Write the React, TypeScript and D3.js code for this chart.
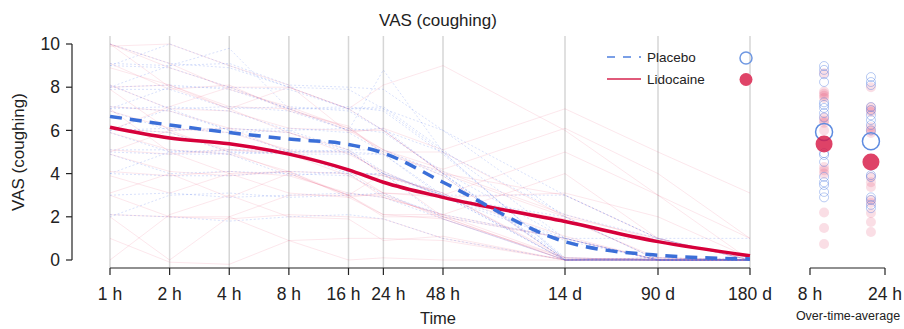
import React from "react";
import * as d3 from "d3";

const timeLabels = ["1 h", "2 h", "4 h", "8 h", "16 h", "24 h", "48 h", "14 d", "90 d", "180 d"];
const timeHours = [1, 2, 4, 8, 16, 24, 48, 336, 2160, 4320];

const placeboMean = [6.65, 6.25, 5.9, 5.6, 5.35, 4.95, 3.6, 0.85, 0.22, 0.05];
const lidocaineMean = [6.15, 5.65, 5.38, 4.9, 4.17, 3.6, 2.9, 1.78, 0.85, 0.2];

const lidocainePatients: number[][] = [
  [10, 9.1, 7.9, 7.1, 6.1, 5.1, 3.9, 0, 0.1, 0],
  [9.9, 10, 9, 8.1, 5.9, 6.1, 5.1, 7, 5, 3.1],
  [9.1, 7.9, 8.1, 6.9, 6.2, 4.9, 4.1, 2.1, 0.9, 0.1],
  [8, 8.1, 7, 5.9, 5.1, 3.9, 3.1, 0.1, 0, 0],
  [8.1, 7, 6.9, 6.1, 6, 5.1, 4.2, 6.1, 4, 1],
  [7.1, 6.9, 6.1, 5.9, 4.9, 4.1, 2.9, 1.9, 0.1, 0],
  [6.9, 6.1, 5.9, 5.1, 4.1, 3.9, 3.1, 0, 0.1, 0],
  [6.1, 5.9, 5.1, 4.9, 3.9, 3.1, 2.9, 3.1, 2, 0.1],
  [5.9, 5.1, 4.9, 4.1, 4, 2.9, 2.1, 0.1, 0, 0],
  [5.1, 4.9, 5.1, 5, 4.1, 3.1, 3, 5, 3, 1],
  [4.9, 4.1, 3.9, 4.1, 2.9, 3.1, 1.9, 0, 0, 0],
  [4.1, 3.9, 4.1, 3.9, 3.1, 2.9, 2.1, 1, 0, 0],
  [3.9, 3.1, 4, 3.1, 2.9, 2.1, 1.9, 0.1, 0, 0],
  [3.1, 4, 2.9, 4, 3, 2.1, 2.1, 4, 1, 0],
  [2.1, 2, 1.9, 2.1, 2, 1.9, 1, 0, 0, 0],
  [2, 0, 2, 0.9, 1, 1, 0.9, 0, 0, 0],
  [1, -0.1, -0.2, 0.9, 0, 0.1, 0, 0, 0, 0],
  [10, 8.9, 8, 8, 7, 6, 4, 3, 1, 0],
  [8.9, 8.1, 7.1, 7, 6.1, 5, 5, 2, 0, 0],
  [0, 2.1, 3, 2, 1.9, 0.9, 1.1, 0, 0, 0],
  [6, 7.1, 8, 7, 6, 6, 4, 2, 1, 0],
  [7.9, 6, 5, 4, 3, 3, 2, 1, 0, 0],
  [7, 5, 4, 4.1, 3, 2, 2, 0, 0, 0],
  [5, 6, 6.1, 5, 5, 4, 3, 1.1, 0, 0],
  [10, 8, 7, 8, 7, 8.1, 9, 6, 3, 0],
  [3, 2, 2, 3, 3, 4, 2, 0, 0, 0],
];

const placeboPatients: number[][] = [
  [10, 9.1, 8.9, 8, 7.9, 7, 5, 0, 0, 0],
  [9.1, 9, 9.1, 8.1, 8, 7.9, 6, 2, 0, 0],
  [9, 8.9, 8, 7.9, 7, 7.1, 5.1, 1, 0, 0.1],
  [8, 8.1, 7.9, 7, 7.1, 6.9, 4.9, 0.1, 0, 0],
  [7.9, 7.9, 7, 7.1, 6.9, 6, 5, 2.1, 1, 0],
  [8.1, 7, 7.1, 6.9, 6, 6.1, 4, 0, 0.1, 0],
  [7, 7.1, 6.9, 6, 6.1, 5.9, 4.1, 1, 0, 0],
  [7.1, 6.9, 6, 6.1, 5.9, 5, 3.9, 0, 0, 0],
  [6.9, 6, 6.1, 5.9, 5, 4.9, 3, 3, 1, 0],
  [6, 6.1, 5.9, 6, 5.1, 5.1, 4, 0.1, 0, 0],
  [6.1, 5.9, 5, 4.9, 4.9, 4.9, 2.9, 0.9, 0, 0],
  [5.9, 5, 5.1, 5.1, 5, 4, 3.1, 0, 0.1, 0],
  [5, 4.9, 4.9, 5, 5.1, 4.1, 2.9, 2, 0, 0],
  [5.1, 5.1, 4.9, 3.9, 4.1, 3.9, 3, 0, 0, 0],
  [4.9, 4, 4.1, 4, 3.9, 4, 1.9, 0, 0, 0],
  [4, 3.9, 3.9, 4.1, 4, 3, 2.1, 1, 0, 0],
  [3, 3.1, 2.9, 3, 3.1, 2.9, 1.9, 0, 0, 0],
  [2, 3, 3.1, 2.9, 3, 3.1, 2, 1, 1, 0],
  [2.1, 2, 1.8, 2, 2.1, 1.9, 1, 0, 0, 0],
  [9, 10, 9, 8, 7, 7, 6, 3, 1, 1],
  [7, 8, 8, 7, 7, 6, 4, 0, 0, 0],
  [6, 7, 6, 5, 5, 4, 3, 1, 0, 0],
  [4, 5, 5, 5, 4, 4, 3, 0, 0, 0],
  [8, 9, 9.8, 7, 6, 8.8, 5, 0, 0, 0],
];

const avgLabels = ["8 h", "24 h"];
const placeboAvg8h = [8.98, 8.8, 8.6, 8.24, 7.3, 7.18, 7.04, 6.8, 6.6, 4.95, 4.86, 4.54, 3.85, 3.6, 3.47, 3.15, 2.9];
const lidocaineAvg8h = [8.65, 7.8, 7.7, 7.6, 7.5, 6.6, 6.45, 6.35, 6.0, 4.3, 4.15, 4.0, 2.2, 1.48, 0.74];
const placeboAvg24h = [8.47, 8.24, 8.1, 7.08, 6.94, 6.7, 6.48, 6.25, 6.0, 3.93, 3.84, 2.9, 2.78, 2.55, 2.4];
const lidocaineAvg24h = [8.0, 7.08, 6.95, 6.85, 6.15, 6.0, 5.88, 3.84, 3.6, 3.38, 2.78, 2.64, 2.18, 1.76, 1.3];
const placeboAvgMean = [5.93, 5.5];
const lidocaineAvgMean = [5.37, 4.54];

const yTicks = [0, 2, 4, 6, 8, 10];

const FONT = "'Liberation Sans', Arial, Helvetica, sans-serif";

export default function App() {
  const x = d3
    .scaleLog()
    .base(2)
    .domain([1, 48, 336, 2160, 4320])
    .range([110, 443, 565, 658, 750]);
  const y = d3.scaleLinear().domain([0, 10]).range([260, 44]);
  const xAvgAxis = d3.scalePoint<string>().domain(avgLabels).range([810, 885]).padding(0);
  const xAvgDots = d3.scalePoint<string>().domain(avgLabels).range([810, 885]).padding(0.3);

  const line = d3
    .line<number>()
    .x((_, i) => x(timeHours[i]))
    .y((v) => y(v));
  const meanLine = d3
    .line<number>()
    .x((_, i) => x(timeHours[i]))
    .y((v) => y(v))
    .curve(d3.curveMonotoneX);

  const placeboAvg = [placeboAvg8h, placeboAvg24h];
  const lidoAvg = [lidocaineAvg8h, lidocaineAvg24h];
  // nudge the crowded 16 h / 24 h labels apart, as in the reference
  const labelNudge = (i: number) => (i === 4 ? -5 : i === 5 ? 5 : 0);

  return (
    <svg width={904} height={329} style={{ position: "absolute", left: 0, top: 0 }} fontFamily={FONT}>
      <rect width={904} height={329} fill="#fff" />
      <text x={438} y={26} textAnchor="middle" fontSize={17} fill="#222">
        VAS (coughing)
      </text>
      {timeHours.map((h, i) => (
        <line key={i} x1={x(h)} x2={x(h)} y1={36} y2={268} stroke="#d6d6d6" strokeWidth={1.5} />
      ))}
      {lidocainePatients.map((p, i) => (
        <path key={"l" + i} d={line(p) || ""} fill="none" stroke="rgba(225,40,80,0.11)" strokeWidth={1} />
      ))}
      {placeboPatients.map((p, i) => (
        <path
          key={"p" + i}
          d={line(p) || ""}
          fill="none"
          stroke="rgba(80,120,235,0.22)"
          strokeWidth={1}
          strokeDasharray="2,2"
        />
      ))}
      <path d={meanLine(lidocaineMean) || ""} fill="none" stroke="#d6003a" strokeWidth={3.5} />
      <path
        d={meanLine(placeboMean) || ""}
        fill="none"
        stroke="#3b6fd8"
        strokeWidth={3.5}
        strokeDasharray="12,8"
      />
      <line x1={72} x2={72} y1={y(0)} y2={y(10)} stroke="#222" strokeWidth={1.2} />
      {yTicks.map((t) => (
        <g key={t}>
          <line x1={66} x2={72} y1={y(t)} y2={y(t)} stroke="#222" strokeWidth={1.2} />
          <text x={60} y={y(t)} dy="0.35em" textAnchor="end" fontSize={17.5} fill="#222">
            {t}
          </text>
        </g>
      ))}
      <text
        transform={`translate(24,${y(5)}) rotate(-90)`}
        textAnchor="middle"
        fontSize={17}
        fill="#222"
      >
        VAS (coughing)
      </text>
      <line x1={x(1)} x2={x(4320)} y1={268} y2={268} stroke="#222" strokeWidth={1.2} />
      {timeHours.map((h, i) => (
        <g key={i}>
          <line x1={x(h)} x2={x(h)} y1={268} y2={275} stroke="#222" strokeWidth={1.2} />
          <text x={x(h) + labelNudge(i)} y={300} textAnchor="middle" fontSize={17.5} fill="#222">
            {timeLabels[i]}
          </text>
        </g>
      ))}
      <text x={438} y={324} textAnchor="middle" fontSize={16.5} fill="#222">
        Time
      </text>
      <line x1={607} x2={641} y1={57} y2={57} stroke="#7a9fe6" strokeWidth={2} strokeDasharray="8,8" />
      <text x={647} y={57} dy="0.35em" fontSize={13.5} fill="#222">
        Placebo
      </text>
      <line x1={607} x2={641} y1={79} y2={79} stroke="#e05a7a" strokeWidth={2} />
      <text x={647} y={79} dy="0.35em" fontSize={13.5} fill="#222">
        Lidocaine
      </text>
      <circle cx={746} cy={58} r={6} fill="none" stroke="#6f98e2" strokeWidth={1.5} />
      <circle cx={746} cy={79.5} r={6.5} fill="#df4468" />
      {avgLabels.map((lab, j) => (
        <g key={lab}>
          {lidoAvg[j].map((v, i) => (
            <circle key={"l" + i} cx={xAvgDots(lab)} cy={y(v)} r={5} fill="rgba(225,60,100,0.17)" />
          ))}
          {placeboAvg[j].map((v, i) => (
            <circle
              key={"p" + i}
              cx={xAvgDots(lab)}
              cy={y(v)}
              r={4.5}
              fill="none"
              stroke="rgba(80,125,225,0.4)"
              strokeWidth={1}
            />
          ))}
          <circle cx={xAvgDots(lab)} cy={y(placeboAvgMean[j])} r={8.5} fill="none" stroke="#5d8be0" strokeWidth={1.5} />
          <circle cx={xAvgDots(lab)} cy={y(lidocaineAvgMean[j])} r={8.5} fill="rgba(215,25,70,0.82)" />
        </g>
      ))}
      <line x1={810} x2={885} y1={268} y2={268} stroke="#222" strokeWidth={1.2} />
      {avgLabels.map((lab) => (
        <g key={lab}>
          <line x1={xAvgAxis(lab)} x2={xAvgAxis(lab)} y1={268} y2={275} stroke="#222" strokeWidth={1.2} />
          <text x={xAvgAxis(lab)} y={300} textAnchor="middle" fontSize={17.5} fill="#222">
            {lab}
          </text>
        </g>
      ))}
      <text x={848} y={320} textAnchor="middle" fontSize={12.5} fill="#222">
        Over-time-average
      </text>
    </svg>
  );
}
